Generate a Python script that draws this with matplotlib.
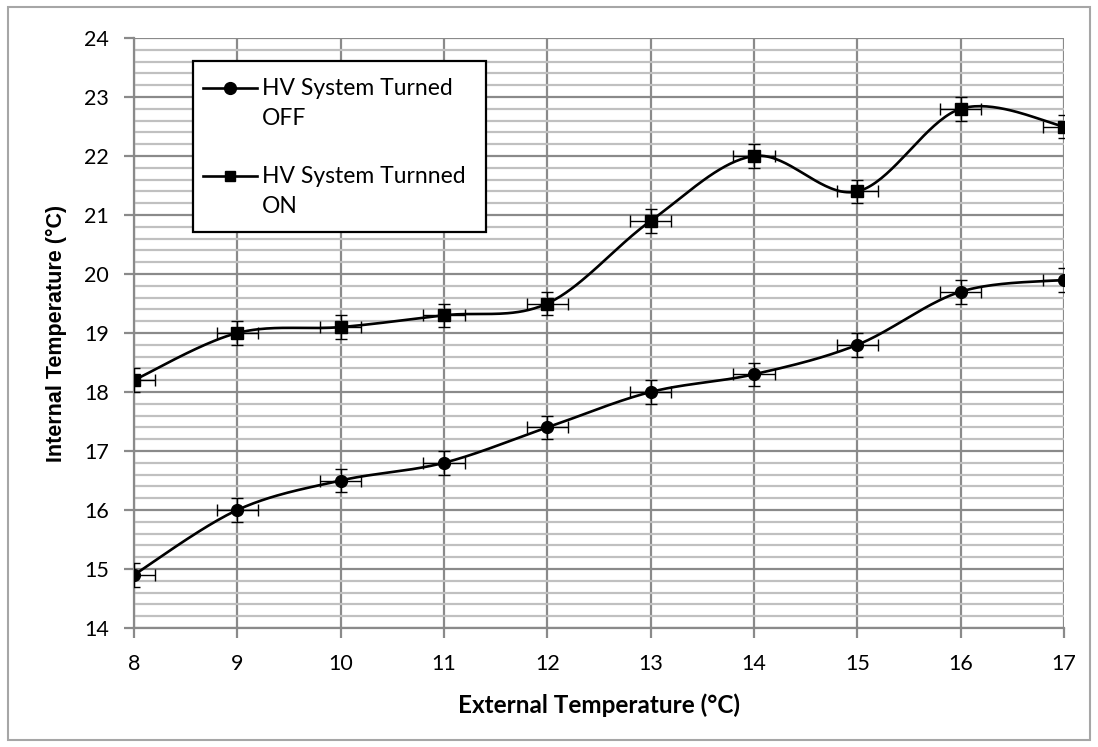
import numpy as np
import matplotlib
matplotlib.use("Agg")
import matplotlib.pyplot as plt
from matplotlib.patches import Rectangle
from matplotlib.lines import Line2D
from matplotlib.ticker import MultipleLocator

plt.rcParams['font.family'] = ['Lato', 'DejaVu Sans']

ext_temp = [8, 9, 10, 11, 12, 13, 14, 15, 16, 17]
hv_off = [14.9, 16.0, 16.5, 16.8, 17.4, 18.0, 18.3, 18.8, 19.7, 19.9]
hv_on = [18.2, 19.0, 19.1, 19.3, 19.5, 20.9, 22.0, 21.4, 22.8, 22.5]
x_err = 0.2
y_err = 0.2
labels = [["HV System Turned", "OFF"], ["HV System Turnned", "ON"]]


def smooth(x, y, n=40):
    # Excel-style smoothed line: Catmull-Rom as cubic Bezier segments
    x = np.asarray(x, float)
    y = np.asarray(y, float)
    px = np.concatenate([[x[0]], x, [x[-1]]])
    py = np.concatenate([[y[0]], y, [y[-1]]])
    xs, ys = [], []
    t = np.linspace(0, 1, n)
    for i in range(1, len(px) - 2):
        p0 = np.array([px[i], py[i]])
        p3 = np.array([px[i + 1], py[i + 1]])
        p1 = p0 + (np.array([px[i + 1], py[i + 1]]) - np.array([px[i - 1], py[i - 1]])) / 6
        p2 = p3 - (np.array([px[i + 2], py[i + 2]]) - np.array([px[i], py[i]])) / 6
        b = ((1 - t) ** 3)[:, None] * p0 + (3 * (1 - t) ** 2 * t)[:, None] * p1 \
            + (3 * (1 - t) * t ** 2)[:, None] * p2 + (t ** 3)[:, None] * p3
        xs.extend(b[:, 0])
        ys.extend(b[:, 1])
    return xs, ys


fig = plt.figure(figsize=(10.98, 7.47), dpi=100)
ax = fig.add_axes([0.122, 0.1593, 0.847, 0.7898])

series = [(hv_off, 'o'), (hv_on, 's')]
for vals, mk in series:
    sx, sy = smooth(ext_temp, vals)
    ax.plot(sx, sy, color='black', lw=1.9, zorder=3)
    ax.errorbar(ext_temp, vals, xerr=x_err, yerr=y_err, fmt='none', ecolor='black',
                elinewidth=1, capsize=4.3, capthick=1, zorder=4)
    ax.plot(ext_temp, vals, marker=mk, ms=8.5, color='black', lw=0, zorder=5)

ax.set_xlim(8, 17)
ax.set_ylim(14, 24)
ax.xaxis.set_major_locator(MultipleLocator(1))
ax.yaxis.set_major_locator(MultipleLocator(1))
ax.yaxis.set_minor_locator(MultipleLocator(0.2))
ax.grid(which='major', color='#8a8a8a', lw=1.6, zorder=1)
ax.grid(which='minor', axis='y', color='#c0c0c0', lw=1.6, zorder=1)
ax.set_axisbelow(True)
for s in ['top', 'right']:
    ax.spines[s].set_visible(False)
for s in ['left', 'bottom']:
    ax.spines[s].set_color('#8a8a8a')
    ax.spines[s].set_linewidth(1.6)
ax.tick_params(which='major', length=7, width=1.6, color='#8a8a8a', labelsize=15.5)
ax.tick_params(which='minor', length=0)
ax.tick_params(axis='x', pad=12)
ax.tick_params(axis='y', pad=11)

ax.set_xlabel("External Temperature (°C)", fontsize=17.5, fontweight='bold', labelpad=14)
ax.set_ylabel("Internal Temperature (°C)", fontsize=15.5, fontweight='bold', labelpad=12,
              family=['Liberation Sans', 'DejaVu Sans'])

# legend box drawn by hand so the handle sits beside the first text line
ax.add_patch(Rectangle((0.0634, 0.671), 0.3151, 0.29, transform=ax.transAxes,
                       facecolor='white', edgecolor='black', lw=1.6, zorder=10,
                       clip_on=False))
for (vals, mk), lab, yc in zip(series, labels, [0.915, 0.766]):
    ax.add_line(Line2D([0.0742, 0.1323], [yc, yc], transform=ax.transAxes, color='black',
                       lw=1.9, zorder=11))
    ax.add_line(Line2D([0.1032], [yc], transform=ax.transAxes, color='black',
                       marker=mk, ms=8.5 if mk == 'o' else 7.5, lw=0, zorder=11))
    for k, line in enumerate(lab):
        ax.text(0.1376, yc - k * 0.052, line, transform=ax.transAxes, fontsize=16.5,
                va='center', ha='left', zorder=12)

fig.patches.append(Rectangle((0.007, 0.01), 0.986, 0.98, transform=fig.transFigure,
                             fill=False, edgecolor='#a6a6a6', lw=1.5))

fig.savefig('out.png', dpi=100)
